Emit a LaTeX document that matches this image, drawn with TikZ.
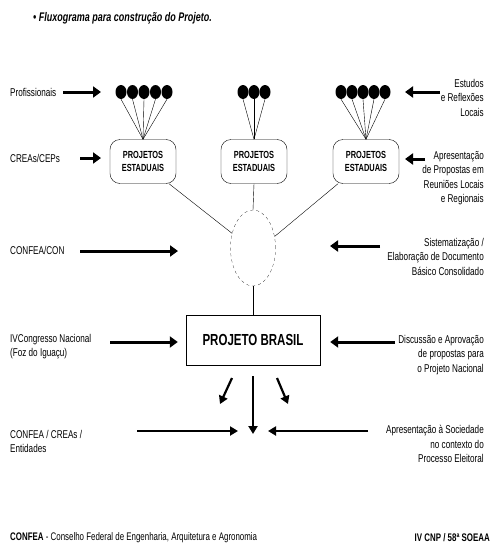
\documentclass[tikz,border=0pt]{standalone}
\usepackage{fontspec}
\setmainfont{Liberation Sans}[FakeStretch=0.72]
\usetikzlibrary{
    shapes.geometric,
    arrows.meta,
    positioning
}

\begin{document}
\begin{tikzpicture}[
        x=1pt, y=-1pt,
        lbl/.style={font=\fontsize{11.3}{14.5}\selectfont, inner sep=0pt},
        estbox/.style={rectangle, draw, rounded corners=10pt, minimum width=66pt, minimum height=44pt, align=center, font=\fontsize{10.3}{13}\selectfont\bfseries},
        dot/.style={ellipse, fill=black, minimum width=11pt, minimum height=14pt, inner sep=0pt},
        bigarrow/.style={-{Triangle[length=8pt,width=11pt]}, line width=3pt},
        midarrow/.style={-{Triangle[length=8pt,width=9pt]}, line width=2.2pt}
    ]
        \useasboundingbox (0,0) rectangle (496,546);

        % Title
        \node[anchor=west, inner sep=0pt, font=\fontsize{12.5}{14}\selectfont\bfseries\itshape] (title) at (33,18) {\textbullet\ Fluxograma para construção do Projeto.};

        % State projects
        \node[estbox] (est1) at (143,161.5) {PROJETOS\\ESTADUAIS};
        \node[estbox] (est2) at (254,161.5) {PROJETOS\\ESTADUAIS};
        \node[estbox] (est3) at (366,161.5) {PROJETOS\\ESTADUAIS};

        % Professionals
        \foreach \i in {0,...,4} {
            \node[dot] (pa\i) at (121+11.5*\i,92) {};
            \draw[thin] (pa\i.south) -- (est1.north);
        }
        \foreach \i in {0,...,2} {
            \node[dot] (pb\i) at (243+11*\i,92) {};
            \draw[thin] (pb\i.south) -- (est2.north);
        }
        \foreach \i in {0,...,4} {
            \node[dot] (pc\i) at (341+11*\i,92) {};
            \draw[thin] (pc\i.south) -- (est3.north);
        }

        % Consolidation and national project
        \node[ellipse, draw, dashed, very thin, minimum width=45pt, minimum height=76pt] (hub) at (253,248) {};
        \node[rectangle, draw, minimum width=134pt, minimum height=50pt, font=\fontsize{16}{18}\selectfont\bfseries] (brasil) at (253,340) {PROJETO BRASIL};

        \draw[thin] ([xshift=26pt]est1.south) -- (hub.145);
        \draw[thin] (est2.south) -- (hub.north);
        \draw[thin] ([xshift=-28pt]est3.south) -- (hub.28);
        \draw[thin] (hub.south) -- (brasil.north);

        % Left labels
        \node[lbl, anchor=west] (prof) at (10,92) {Profissionais};
        \node[lbl, anchor=west] (crea) at (10,158) {CREAs/CEPs};
        \node[lbl, anchor=west] (confea) at (10,250) {CONFEA/CON};
        \node[lbl, anchor=north west, align=left] (cong) at (10,334) {IVCongresso Nacional\\(Foz do Iguaçu)};
        \node[lbl, anchor=north west, align=left] (ent) at (10,430) {CONFEA / CREAs /\\Entidades};

        % Right labels
        \node[lbl, anchor=north east, align=right] (estudos) at (484,79) {Estudos\\e Reflexões\\Locais};
        \node[lbl, anchor=north east, align=right] (apres) at (484,151) {Apresentação\\de Propostas em\\Reuniões Locais\\e Regionais};
        \node[lbl, anchor=north east, align=right] (sist) at (484,238) {Sistematização /\\Elaboração de Documento\\Básico Consolidado};
        \node[lbl, anchor=north east, align=right] (disc) at (484,335) {Discussão e Aprovação\\de propostas para\\o Projeto Nacional};
        \node[lbl, anchor=north east, align=right] (soc) at (484,425) {Apresentação à Sociedade\\no contexto do\\Processo Eleitoral};

        % Arrow ends
        \coordinate (a1) at (63,92);    \coordinate (b1) at (101,92);
        \coordinate (a2) at (80,158);   \coordinate (b2) at (101,158);
        \coordinate (a3) at (80,251);   \coordinate (b3) at (178,251);
        \coordinate (a4) at (110,342);
        \coordinate (c1) at (440,92);   \coordinate (d1) at (405,92);
        \coordinate (c2) at (425,159);  \coordinate (d2) at (405,159);
        \coordinate (c3) at (380,246);  \coordinate (d3) at (330,246);
        \coordinate (c4) at (395,342);
        \coordinate (out1) at (232,378); \coordinate (in1) at (220,404);
        \coordinate (out2) at (253,376); \coordinate (in2) at (253,434);
        \coordinate (out3) at (277,378); \coordinate (in3) at (288,404);
        \coordinate (a5) at (137,431);  \coordinate (b5) at (238,431);
        \coordinate (c5) at (368,431);  \coordinate (d5) at (268,431);

        % Arrows
        \draw[bigarrow] (a1) -- (b1);
        \draw[bigarrow] (a2) -- (b2);
        \draw[bigarrow] (a3) -- (b3);
        \draw[bigarrow, shorten >=8pt] (a4) -- (a4 -| brasil.west);
        \draw[bigarrow] (c1) -- (d1);
        \draw[bigarrow] (c2) -- (d2);
        \draw[bigarrow] (c3) -- (d3);
        \draw[bigarrow, shorten >=10pt] (c4) -- (c4 -| brasil.east);
        \draw[midarrow] (out1) -- (in1);
        \draw[midarrow] (out2) -- (in2);
        \draw[midarrow] (out3) -- (in3);
        \draw[midarrow] (a5) -- (b5);
        \draw[midarrow] (c5) -- (d5);

        % Footer
        \node[anchor=west, inner sep=0pt, font=\fontsize{11}{13}\selectfont] (foot) at (10,538) {\textbf{CONFEA} - Conselho Federal de Engenharia, Arquitetura e Agronomia};
        \node[anchor=east, inner sep=0pt, font=\fontsize{11}{13}\selectfont\bfseries] (cnp) at (490,538) {IV CNP / 58ª SOEAA};
    \end{tikzpicture}
\end{document}
